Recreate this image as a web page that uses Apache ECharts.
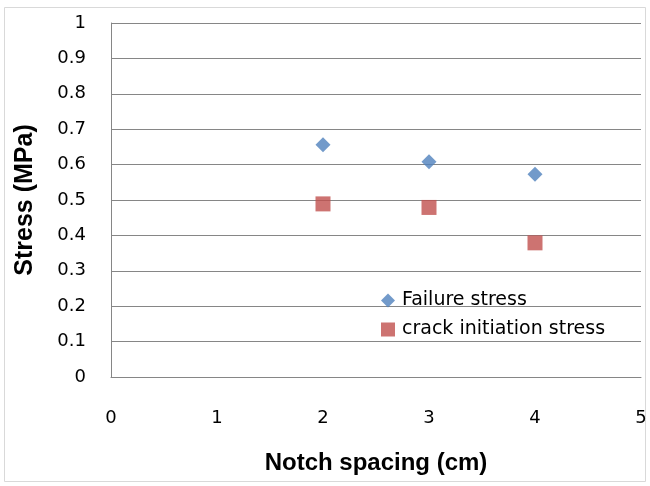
<!DOCTYPE html>
<html>
<head>
<meta charset="utf-8">
<script src="https://cdn.jsdelivr.net/npm/echarts@6/dist/echarts.min.js"></script>
<style>
  html, body { margin: 0; padding: 0; background: #fff; }
  #chart { width: 650px; height: 486px; }
</style>
</head>
<body>
<div id="chart"></div>
<script>
// Notch spacing (cm)
const spacing = [2, 3, 4];
// Stress values (MPa)
const failureStress = [0.656, 0.608, 0.573];
const crackInitiationStress = [0.489, 0.479, 0.379];

const seriesNames = ['Failure stress', 'crack initiation stress'];
const LABEL_FONT = 'DejaVu Sans, Verdana, sans-serif';
const TITLE_FONT = 'Liberation Sans, Arial, sans-serif';

const chart = echarts.init(document.getElementById('chart'), null, { renderer: 'canvas' });

chart.setOption({
  backgroundColor: '#ffffff',
  animation: false,
  graphic: [{
    type: 'rect',
    shape: { x: 4.5, y: 7.5, width: 641, height: 474 },
    style: { fill: 'none', stroke: '#d9d9d9', lineWidth: 1 },
    silent: true
  }],
  grid: { left: 111, right: 9, top: 23, bottom: 109, containLabel: false },
  legend: {
    orient: 'vertical',
    left: 381,
    top: 291,
    padding: 0,
    itemGap: 10,
    itemWidth: 14,
    itemHeight: 14,
    textStyle: { fontFamily: LABEL_FONT, fontSize: 19, color: '#000', padding: [0, 0, 0, 2] },
    data: [
      { name: seriesNames[0], icon: 'diamond' },
      { name: seriesNames[1], icon: 'rect' }
    ]
  },
  xAxis: {
    type: 'value',
    min: 0, max: 5, interval: 1,
    name: 'Notch spacing (cm)',
    nameLocation: 'middle',
    nameGap: 74,
    nameTextStyle: { fontFamily: TITLE_FONT, fontSize: 24, fontWeight: 'bold', color: '#000' },
    axisLine: { show: true, lineStyle: { color: '#868686', width: 1 } },
    axisTick: { show: false },
    splitLine: { show: false },
    axisLabel: { margin: 32, fontFamily: LABEL_FONT, fontSize: 18, color: '#000' }
  },
  yAxis: {
    type: 'value',
    min: 0, max: 1, interval: 0.1,
    name: 'Stress (MPa)',
    nameLocation: 'middle',
    nameGap: 73,
    nameRotate: 90,
    nameTextStyle: { fontFamily: TITLE_FONT, fontSize: 25, fontWeight: 'bold', color: '#000' },
    axisLine: { show: true, lineStyle: { color: '#868686', width: 1 } },
    axisTick: { show: false },
    splitLine: { show: true, lineStyle: { color: '#868686', width: 1 } },
    axisLabel: {
      margin: 25, fontFamily: LABEL_FONT, fontSize: 18, color: '#000',
      formatter: v => String(Math.round(v * 10) / 10)
    }
  },
  series: [
    {
      name: seriesNames[0],
      type: 'scatter',
      symbol: 'diamond',
      symbolSize: [15, 15],
      itemStyle: { color: '#4F81BD' },
      data: spacing.map((x, i) => [x, failureStress[i]])
    },
    {
      name: seriesNames[1],
      type: 'scatter',
      symbol: 'rect',
      symbolSize: [15, 15],
      itemStyle: { color: '#C0504D' },
      data: spacing.map((x, i) => [x, crackInitiationStress[i]])
    }
  ]
});
</script>
</body>
</html>
